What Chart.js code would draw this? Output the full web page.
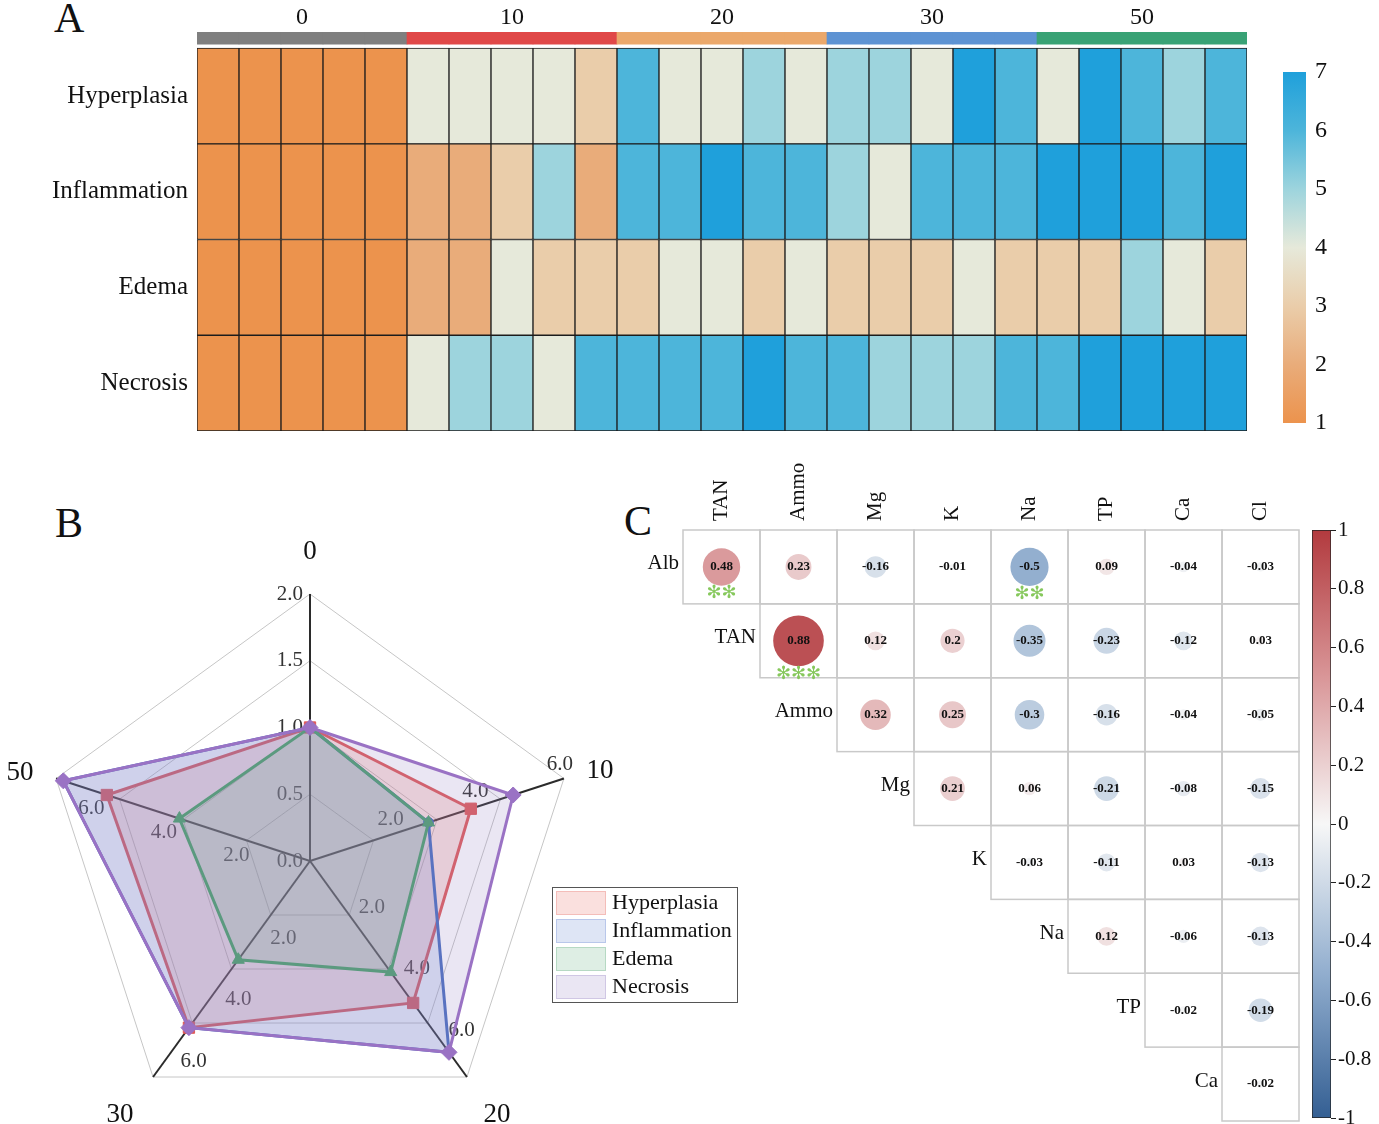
<!DOCTYPE html>
<html>
<head>
<meta charset="utf-8">
<script src="https://cdn.jsdelivr.net/npm/chart.js@4.4.1/dist/chart.umd.min.js"></script>
<style>
html, body { margin: 0; padding: 0; background: #fff; overflow: hidden; }
body { width: 1379px; height: 1124px; position: relative; font-family: "Liberation Serif", "Times New Roman", serif; }
canvas { position: absolute; }
.tag { position: absolute; font-size: 42px; line-height: 1; color: #111; }
</style>
</head>
<body>
<div class="tag" style="left:54px;top:-3px">A</div>
<div class="tag" style="left:55px;top:502px">B</div>
<div class="tag" style="left:624px;top:500px">C</div>
<canvas id="heat" width="1250" height="470" style="left:0;top:0"></canvas>
<canvas id="heatBar" width="100" height="410" style="left:1270px;top:40px"></canvas>
<canvas id="radar" width="740" height="620" style="left:0;top:530px"></canvas>
<canvas id="corr" width="710" height="680" style="left:600px;top:455px"></canvas>
<canvas id="corrBar" width="79" height="640" style="left:1300px;top:505px"></canvas>
<script>
// ---- A: lesion scores, 5 fish per group ----
const groups = ['0', '10', '20', '30', '50'];
const rowNames = ['Hyperplasia', 'Inflammation', 'Edema', 'Necrosis'];
const hyperplasia  = [1,1,1,1,1, 4,4,4,4,3, 6,4,4,5,4, 5,5,4,7,6, 4,7,6,5,6];
const inflammation = [1,1,1,1,1, 2,2,3,5,2, 6,6,7,6,6, 5,4,6,6,6, 7,7,7,6,7];
const edema        = [1,1,1,1,1, 2,2,4,3,3, 3,4,4,3,4, 3,3,3,4,3, 3,3,5,4,3];
const necrosis     = [1,1,1,1,1, 4,5,5,4,6, 6,6,6,7,6, 6,5,5,5,6, 6,7,7,7,7];
const scoreTicks = [1, 7];

// ---- B: mean scores per group (axis 0 runs to 2, axis 10 to 6, the rest to 7) ----
const radarAxes = ['0', '10', '20', '30', '50'];
const axisMax = [2, 6, 7, 7, 7];
const radarTicks = [[0, 0.5, 1, 1.5, 2], [2, 4, 6], [2, 4, 6], [2, 4, 6], [2, 4, 6]];
const hyperplasiaMean  = [1.0, 3.8, 4.6, 5.4, 5.6];
const inflammationMean = [1.0, 2.8, 6.2, 5.4, 6.8];
const edemaMean        = [1.0, 2.8, 3.6, 3.2, 3.6];
const necrosisMean     = [1.0, 4.8, 6.2, 5.4, 6.8];

// ---- C: correlation matrix (upper triangle) ----
const corrCols = ['TAN', 'Ammo', 'Mg', 'K', 'Na', 'TP', 'Ca', 'Cl'];
const corrRows = ['Alb', 'TAN', 'Ammo', 'Mg', 'K', 'Na', 'TP', 'Ca'];
const rAlb  = [0.48, 0.23, -0.16, -0.01, -0.5, 0.09, -0.04, -0.03];
const rTAN  = [0.88, 0.12, 0.2, -0.35, -0.23, -0.12, 0.03];
const rAmmo = [0.32, 0.25, -0.3, -0.16, -0.04, -0.05];
const rMg   = [0.21, 0.06, -0.21, -0.08, -0.15];
const rK    = [-0.03, -0.11, 0.03, -0.13];
const rNa   = [0.12, -0.06, -0.13];
const rTP   = [-0.02, -0.19];
const rCa   = [-0.02];
const signif = [[0, 0, 2], [0, 4, 2], [1, 1, 3]]; // row, column, number of stars
const corrTicks = [-1, 1];

const heatColors = ['#EC934D', '#E9AC7A', '#EACDAA', '#E6E9DA', '#9DD4DD', '#4DB5DA', '#1FA0DB'];
const groupColors = ['#7F7F7F', '#E04848', '#EBA86B', '#5E93D3', '#39A275'];
const corrStops = ['#345F93', '#93AFCF', '#F7F7F7', '#D99698', '#B23A3E'];

Chart.defaults.font.family = '"Liberation Serif", "Times New Roman", serif';
Chart.defaults.color = '#111';
Chart.defaults.animation = false;
Chart.defaults.events = [];
Chart.defaults.layout.autoPadding = false;
Chart.defaults.plugins.legend.display = false;
Chart.defaults.plugins.tooltip.enabled = false;

function scaleGradient(chart, lo, hi, colors) {
    const area = chart.chartArea;
    if (!area) return colors[0];
    const y = chart.scales.y;
    const g = chart.ctx.createLinearGradient(0, y.getPixelForValue(lo), 0, y.getPixelForValue(hi));
    colors.forEach((col, i) => g.addColorStop(i / (colors.length - 1), col));
    return g;
}

function hexRgb(h) {
    return [1, 3, 5].map(k => parseInt(h.substr(k, 2), 16));
}

function corrColor(v) {
    const t = Math.min(Math.max((v + 1) / 2, 0), 1) * (corrStops.length - 1);
    const k = Math.min(Math.floor(t), corrStops.length - 2);
    const f = t - k;
    const a = hexRgb(corrStops[k]), b = hexRgb(corrStops[k + 1]);
    const c = a.map((x, i) => Math.round(x + (b[i] - x) * f));
    return `rgb(${c[0]},${c[1]},${c[2]})`;
}

// ---------------- A: heatmap as stacked bars ----------------
const columns = hyperplasia.map((v, i) => 'S' + (i + 1));

function heatRow(label, values) {
    return {
        label: label,
        data: values.map(() => 1),
        backgroundColor: values.map(v => heatColors[v - 1]),
        borderColor: '#1c1c1c',
        borderWidth: 1,
        borderSkipped: false
    };
}

new Chart(document.getElementById('heat'), {
    type: 'bar',
    data: {
        labels: columns,
        datasets: [
            heatRow('Necrosis', necrosis),
            heatRow('Edema', edema),
            heatRow('Inflammation', inflammation),
            heatRow('Hyperplasia', hyperplasia),
            { label: 'gap', data: columns.map(() => 0.042), backgroundColor: 'rgba(0,0,0,0)', borderWidth: 0 },
            { label: 'group', data: columns.map(() => 0.126), backgroundColor: columns.map((c, i) => groupColors[Math.floor(i / 5)]), borderWidth: 0 }
        ]
    },
    options: {
        responsive: false,
        layout: { padding: { left: 0, right: 3, top: 0, bottom: 39 } },
        datasets: { bar: { barPercentage: 1, categoryPercentage: 1 } },
        scales: {
            x: {
                position: 'top', stacked: true,
                grid: { display: false, drawTicks: false }, border: { display: false },
                ticks: { autoSkip: false, maxRotation: 0, padding: 0, font: { size: 24 }, color: '#111',
                    callback: (v, i) => i % 5 === 2 ? groups[(i - 2) / 5] : '' },
                afterFit: s => { s.height = 32; }
            },
            y: {
                stacked: true, min: 0, max: 4.168,
                grid: { display: false, drawTicks: false }, border: { display: false },
                ticks: { padding: 9, font: { size: 25 }, color: '#111', callback: v => rowNames[3 - Math.floor(v)] },
                afterBuildTicks: s => { s.ticks = [0.5, 1.5, 2.5, 3.5].map(v => ({ value: v })); },
                afterFit: s => { s.width = 197; }
            }
        }
    }
});

new Chart(document.getElementById('heatBar'), {
    type: 'bar',
    data: {
        labels: ['score'],
        datasets: [{ data: [scoreTicks], backgroundColor: ctx => scaleGradient(ctx.chart, 1, 7, heatColors),
            borderWidth: 0, barPercentage: 1, categoryPercentage: 1 }]
    },
    options: {
        responsive: false,
        layout: { padding: { left: 13, right: 0, top: 32, bottom: 27 } },
        scales: {
            x: { display: false },
            y: {
                position: 'right', min: 1, max: 7,
                ticks: { stepSize: 1, padding: 9, font: { size: 24 }, color: '#111' },
                grid: { display: false, drawTicks: false }, border: { display: false },
                afterFit: s => { s.width = 64; }
            }
        }
    }
});

// ---------------- B: radar ----------------
// offsets of the group names from the outer vertex of each axis
const labelShift = [[0, -42], [36, -8], [30, 38], [-33, 38], [-36, -6]];

const radarText = {
    id: 'radarText',
    beforeDatasetsDraw(chart) {
        const r = chart.scales.r, c = chart.ctx;
        c.save();
        c.font = '21px "Liberation Serif"';
        c.fillStyle = '#333';
        radarTicks.forEach((list, i) => {
            list.forEach(t => {
                const p = r.getPointPositionForValue(i, t / axisMax[i]);
                const txt = t.toFixed(1);
                if (i === 0) { c.textAlign = 'right'; c.textBaseline = 'middle'; c.fillText(txt, p.x - 7, p.y); }
                else if (i === 1) { c.textAlign = 'center'; c.textBaseline = 'bottom'; c.fillText(txt, p.x - 4, p.y - 4); }
                else if (i === 2) { c.textAlign = 'left'; c.textBaseline = 'bottom'; c.fillText(txt, p.x + 4, p.y - 5); }
                else if (i === 3) { c.textAlign = 'left'; c.textBaseline = 'top'; c.fillText(txt, p.x + 5, p.y + 5); }
                else { c.textAlign = 'center'; c.textBaseline = 'top'; c.fillText(txt, p.x - 1, p.y + 8); }
            });
        });
        c.font = '27px "Liberation Serif"';
        c.fillStyle = '#111';
        c.textAlign = 'center';
        c.textBaseline = 'middle';
        radarAxes.forEach((name, i) => {
            const p = r.getPointPosition(i, r.drawingArea);
            c.fillText(name, p.x + labelShift[i][0], p.y + labelShift[i][1]);
        });
        c.restore();
    }
};

const radarLegend = {
    id: 'radarLegend',
    afterDraw(chart) {
        const c = chart.ctx;
        const x0 = 552, y0 = 357, w = 185, h = 115;
        c.save();
        c.fillStyle = '#fff';
        c.fillRect(x0, y0, w, h);
        c.strokeStyle = '#555';
        c.lineWidth = 1;
        c.strokeRect(x0 + 0.5, y0 + 0.5, w, h);
        c.font = '22px "Liberation Serif"';
        c.textAlign = 'left';
        c.textBaseline = 'middle';
        chart.data.datasets.forEach((ds, k) => {
            const y = y0 + 4 + k * 28;
            c.fillStyle = ds.backgroundColor;
            c.fillRect(x0 + 4, y, 50, 24);
            c.strokeStyle = ds.edge;
            c.strokeRect(x0 + 4.5, y + 0.5, 49, 23);
            c.fillStyle = '#111';
            c.fillText(ds.label, x0 + 60, y + 12);
        });
        c.restore();
    }
};

function radarSet(label, means, color, fill, edge, shape, radius, order) {
    return {
        label: label,
        data: means.map((v, i) => v / axisMax[i]),
        borderColor: color,
        backgroundColor: fill,
        edge: edge,
        fill: true,
        borderWidth: 3,
        pointStyle: shape,
        pointRadius: radius,
        pointBackgroundColor: color,
        pointBorderColor: color,
        pointBorderWidth: 1,
        clip: false,
        order: order
    };
}

new Chart(document.getElementById('radar'), {
    type: 'radar',
    data: {
        labels: radarAxes,
        datasets: [
            radarSet('Hyperplasia', hyperplasiaMean, '#E05A5A', 'rgba(232,110,100,0.21)', 'rgba(232,110,100,0.3)', 'rect', 8, 4),
            radarSet('Inflammation', inflammationMean, '#4A6FC0', 'rgba(100,130,210,0.21)', 'rgba(100,130,210,0.3)', 'circle', 5, 3),
            radarSet('Edema', edemaMean, '#4DA06E', 'rgba(90,170,120,0.2)', 'rgba(90,170,120,0.3)', 'triangle', 7, 2),
            radarSet('Necrosis', necrosisMean, '#9A72C4', 'rgba(150,130,195,0.2)', 'rgba(150,130,195,0.3)', 'rectRot', 8, 1)
        ]
    },
    options: {
        responsive: false,
        layout: { padding: { left: 43, right: 163, top: 64, bottom: 22 } },
        scales: {
            r: {
                min: 0, max: 1,
                ticks: { display: false, stepSize: 0.25 },
                pointLabels: { display: false },
                grid: { color: '#c6c6c6', lineWidth: 1 },
                angleLines: { color: '#2b2b2b', lineWidth: 2 }
            }
        }
    },
    plugins: [radarText, radarLegend]
});

// ---------------- C: correlation bubbles ----------------
const corrValues = [rAlb, rTAN, rAmmo, rMg, rK, rNa, rTP, rCa];
const corrPoints = corrValues.flatMap((vals, i) => vals.map((v, k) => ({ x: i + k, y: i, v: v })));
const bubbleSize = v => 27 * Math.sqrt(Math.abs(v));

const corrDecor = {
    id: 'corrDecor',
    beforeDatasetsDraw(chart) {
        const c = chart.ctx, xs = chart.scales.x, ys = chart.scales.y;
        c.save();
        c.strokeStyle = '#c9c9c9';
        c.lineWidth = 1.5;
        corrRows.forEach((name, i) => {
            for (let j = i; j < corrCols.length; j++) {
                const x0 = xs.getPixelForValue(j - 0.5), x1 = xs.getPixelForValue(j + 0.5);
                const y0 = ys.getPixelForValue(i - 0.5), y1 = ys.getPixelForValue(i + 0.5);
                c.strokeRect(x0, y0, x1 - x0, y1 - y0);
            }
        });
        c.fillStyle = '#111';
        c.font = '21px "Liberation Serif"';
        c.textAlign = 'right';
        c.textBaseline = 'middle';
        corrRows.forEach((name, i) => c.fillText(name, xs.getPixelForValue(i - 0.5) - 4, ys.getPixelForValue(i) - 3));
        corrCols.forEach((name, j) => {
            c.save();
            c.translate(xs.getPixelForValue(j), ys.getPixelForValue(-0.5) - 9);
            c.rotate(-Math.PI / 2);
            c.textAlign = 'left';
            c.fillText(name, 0, 0);
            c.restore();
        });
        c.restore();
    },
    afterDatasetsDraw(chart) {
        const c = chart.ctx, meta = chart.getDatasetMeta(0);
        c.save();
        c.fillStyle = '#111';
        c.font = 'bold 13px "Liberation Serif"';
        c.textAlign = 'center';
        c.textBaseline = 'middle';
        meta.data.forEach((pt, k) => c.fillText(String(corrPoints[k].v), pt.x, pt.y));
        c.fillStyle = '#86C85C';
        c.font = '18px "DejaVu Sans"';
        signif.forEach(([i, j, n]) => {
            const cx = chart.scales.x.getPixelForValue(j), cy = chart.scales.y.getPixelForValue(i);
            const v = corrValues[i][j - i];
            for (let k = 0; k < n; k++) c.fillText('\u273B', cx + (k - (n - 1) / 2) * 15, cy + bubbleSize(v) + 8);
        });
        c.restore();
    }
};

new Chart(document.getElementById('corr'), {
    type: 'scatter',
    data: {
        datasets: [{
            data: corrPoints,
            pointRadius: ctx => ctx.raw ? bubbleSize(ctx.raw.v) : 0,
            pointHoverRadius: ctx => ctx.raw ? bubbleSize(ctx.raw.v) : 0,
            pointBackgroundColor: ctx => ctx.raw ? corrColor(ctx.raw.v) : '#fff',
            pointBorderWidth: 0,
            clip: false
        }]
    },
    options: {
        responsive: false,
        layout: { padding: { left: 83, right: 11, top: 75, bottom: 14 } },
        scales: {
            x: { type: 'linear', min: -0.5, max: 7.5, display: false },
            y: { type: 'linear', min: -0.5, max: 7.5, reverse: true, display: false }
        }
    },
    plugins: [corrDecor]
});

new Chart(document.getElementById('corrBar'), {
    type: 'bar',
    data: {
        labels: ['r'],
        datasets: [{ data: [corrTicks], backgroundColor: ctx => scaleGradient(ctx.chart, -1, 1, corrStops),
            borderColor: '#222', borderWidth: 1, borderSkipped: false, barPercentage: 1, categoryPercentage: 1 }]
    },
    options: {
        responsive: false,
        layout: { padding: { left: 12, right: 0, top: 25, bottom: 27 } },
        scales: {
            x: { display: false },
            y: {
                position: 'right', min: -1, max: 1,
                ticks: { stepSize: 0.2, padding: 2, font: { size: 21 }, color: '#111',
                    callback: v => String(Math.round(v * 10) / 10) },
                grid: { display: true, drawOnChartArea: false, drawTicks: true, tickLength: 5, tickColor: '#222' },
                border: { display: false },
                afterFit: s => { s.width = 48; }
            }
        }
    }
});
</script>
</body>
</html>
